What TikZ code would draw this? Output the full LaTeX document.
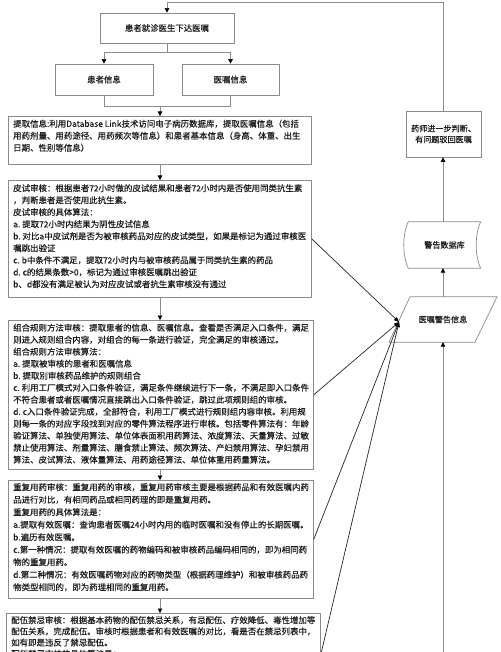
\documentclass[tikz,border=0pt]{standalone}
\usepackage{fontspec}
\setmainfont{Noto Sans CJK SC}[FakeBold=0.4]
\usetikzlibrary{arrows.meta,calc}
\definecolor{boxgray}{HTML}{8A8A8A}
\definecolor{linegray}{HTML}{8C8C8C}
\definecolor{txtc}{HTML}{1E1E1E}
\begin{document}
\begin{tikzpicture}[x=1pt,y=-1pt,
  box/.style={draw=boxgray, line width=0.7pt, inner sep=0pt, rectangle},
  txt/.style={inner sep=0pt, align=left, anchor=north west, text=txtc, font=\fontsize{8.45pt}{12pt}\selectfont},
  txtw/.style={inner sep=0pt, align=left, anchor=north west, text=txtc, font=\fontsize{8.45pt}{12.5pt}\selectfont},
  txtc/.style={inner sep=0pt, align=left, anchor=north west, text=txtc, font=\fontsize{8.45pt}{11.2pt}\selectfont},
  ctxt/.style={text=txtc, align=center, font=\fontsize{8.4pt}{11pt}\selectfont},
  rtxt/.style={text=txtc, align=center, font=\fontsize{8.1pt}{11pt}\selectfont},
  con/.style={draw=linegray, line width=0.6pt},
  arr/.style={con, -{Triangle[length=4.5pt,width=4.5pt,color=black]}},
  diag/.style={draw=black!85, line width=0.7pt, -{Triangle[length=5pt,width=4pt,color=black]}}
]
\path[use as bounding box, clip] (0,0) rectangle (500,652);
\fill[white] (0,0) rectangle (500,652);

% top part
\node[box, ctxt, minimum width=134pt, minimum height=30pt] (top) at (167,28) {患者就诊医生下达医嘱};
\node[box, ctxt, minimum width=98pt, minimum height=31pt] (pat) at (104,79.5) {患者信息};
\node[box, ctxt, minimum width=97pt, minimum height=31pt] (ord) at (230.5,79.5) {医嘱信息};

% main boxes
\node[box, anchor=north west, minimum width=303pt, minimum height=48pt] (ext) at (8,116) {};
\node[txt] (extT) at ([xshift=5pt,yshift=-3.5pt]ext.north west) {提取信息:利用Database~Link技术访问电子病历数据库，提取医嘱信息（包括\\用药剂量、用药途径、用药频次等信息）和患者基本信息（身高、体重、出生\\日期、性别等信息）};

\node[box, anchor=north west, minimum width=303pt, minimum height=117pt] (skin) at (8,180) {};
\node[txt] (skinT) at ([xshift=5pt,yshift=-4pt]skin.north west) {皮试审核：根据患者72小时做的皮试结果和患者72小时内是否使用同类抗生素\\，判断患者是否使用此抗生素。\\皮试审核的具体算法：\\a.~提取72小时内结果为阴性皮试信息\\b.~对比a中皮试剂是否为被审核药品对应的皮试类型，如果是标记为通过审核医\\嘱跳出验证\\c.~b中条件不满足，提取72小时内与被审核药品属于同类抗生素的药品\\d.~c的结果条数>0，标记为通过审核医嘱跳出验证\\b、d都没有满足被认为对应皮试或者抗生素审核没有通过};

\node[box, anchor=north west, minimum width=305pt, minimum height=149pt] (comb) at (8,320) {};
\node[txt] (combT) at ([xshift=5pt,yshift=-3.5pt]comb.north west) {组合规则方法审核：提取患者的信息、医嘱信息。查看是否满足入口条件，满足\\则进入规则组合内容，对组合的每一条进行验证，完全满足的审核通过。\\组合规则方法审核算法：\\a.~提取被审核的患者和医嘱信息\\b.~提取别审核药品维护的规则组合\\c.~利用工厂模式对入口条件验证，满足条件继续进行下一条，不满足即入口条件\\不符合患者或者医嘱情况直接跳出入口条件验证，跳过此项规则组的审核。\\d.~c入口条件验证完成，全部符合，利用工厂模式进行规则组内容审核。利用规\\则每一条的对应字段找到对应的零件算法程序进行审核。包括零件算法有：年龄\\验证算法、单独使用算法、单位体表面积用药算法、浓度算法、天量算法、过敏\\禁止使用算法、剂量算法、膳食禁止算法、频次算法、产妇禁用算法、孕妇禁用\\算法、皮试算法、液体量算法、用药途径算法、单位体重用药量算法。};

\node[box, anchor=north west, minimum width=305pt, minimum height=118pt] (dup) at (8,480) {};
\node[txtw] (dupT) at ([xshift=5pt,yshift=-3pt]dup.north west) {重复用药审核：重复用药的审核，重复用药审核主要是根据药品和有效医嘱内药\\品进行对比，有相同药品或相同药理的即是重复用药。\\重复用药的具体算法是：\\a.提取有效医嘱：查询患者医嘱24小时内用的临时医嘱和没有停止的长期医嘱。\\b.遍历有效医嘱。\\c.第一种情况：提取有效医嘱的药物编码和被审核药品编码相同的，即为相同药\\物的重复用药。\\d.第二种情况：有效医嘱药物对应的药物类型（根据药理维护）和被审核药品药\\物类型相同的，即为药理相同的重复用药。};

\node[box, anchor=north west, minimum width=314pt, minimum height=90pt] (cp) at (6,613) {};
\node[txtc] (cpT) at ([xshift=5pt,yshift=-3pt]cp.north west) {配伍禁忌审核：根据基本药物的配伍禁忌关系，有忌配伍、疗效降低、毒性增加等\\配伍关系，完成配伍。审核时根据患者和有效医嘱的对比，看是否在禁忌列表中，\\如有即是违反了禁忌配伍。\\配伍禁忌审核的具体算法是：};

% right column
\node[box, rtxt, minimum width=75pt, minimum height=46pt] (ph) at (443.5,134) {药师进一步判断、\\有问题驳回医嘱};
\node[rtxt, inner sep=0pt, minimum width=72pt, minimum height=46pt] (db) at (444.5,245) {警告数据库};
\draw[draw=boxgray, line width=0.7pt] (db.north west) .. controls +(-6,12) and +(-6,-12) .. (db.south west) -- (db.south east) .. controls +(-6,-12) and +(-6,12) .. (db.north east) -- cycle;
\node[rtxt, inner sep=0pt, minimum width=66pt, minimum height=45pt] (al) at (443,319.5) {医嘱警告信息};
\draw[draw=boxgray, line width=0.7pt] ($(al.north)+(-33,0)$) -- ($(al.north)+(54,0)$) -- ($(al.south)+(32,0)$) -- ($(al.south)+(-54,0)$) -- cycle;
\coordinate (ain) at (399,322);
\coordinate (bot) at (443,652);
\coordinate (cpE) at ($(cp.north east)+(0,42)$);

% connectors
\draw[arr] (ph.north) -- (ph.north |- 0,2) -| (top.north);
\coordinate (spl) at (167,52);
\draw[con] (top.south) -- (spl);
\draw[arr] (spl) -| (pat.north);
\draw[arr] (spl) -| (ord.north);
\coordinate (mrg) at (160,106);
\draw[con] (pat.south) |- (mrg);
\draw[con] (ord.south) |- (mrg);
\draw[arr] (mrg) -- (mrg |- ext.north);
\draw[arr] (mrg |- ext.south) -- (mrg |- skin.north);
\draw[arr] (mrg |- skin.south) -- (mrg |- comb.north);
\draw[arr] (mrg |- comb.south) -- (mrg |- dup.north);
\draw[arr] (mrg |- dup.south) -- (mrg |- cp.north);

\draw[arr] (db.north -| al.north) -- (al.north |- ph.south);
\draw[arr] (al.north) -- (al.north |- db.south);
\draw[arr] (bot) -- (al.south);

\draw[diag] (skin.east) -- (ain);
\draw[diag] (comb.east) -- (ain);
\draw[diag] (dup.east) -- (ain);
\draw[diag] (cpE) -- (ain);
\end{tikzpicture}
\end{document}
